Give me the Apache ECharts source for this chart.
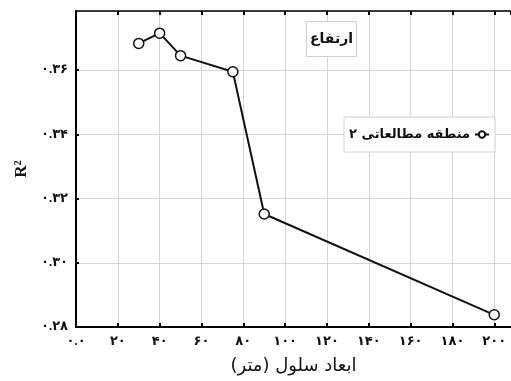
<!DOCTYPE html>
<html>
<head>
<meta charset="utf-8">
<script src="https://cdn.jsdelivr.net/npm/echarts@6/dist/echarts.min.js"></script>
<style>html,body{margin:0;padding:0;background:#fff}#c{width:511px;height:381px}</style>
</head>
<body>
<div id="c"></div>
<script>
var cellSize = [30, 40, 50, 75, 90, 200];
var r2Values = [0.3683, 0.3715, 0.3645, 0.3595, 0.3152, 0.2838];
var xTickLabels = ['۰.۰', '۲۰', '۴۰', '۶۰', '۸۰', '۱۰۰', '۱۲۰', '۱۴۰', '۱۶۰', '۱۸۰', '۲۰۰'];
var yTickLabels = ['۰.۲۸', '۰.۳۰', '۰.۳۲', '۰.۳۴', '۰.۳۶'];
var seriesName = 'منطقه مطالعاتی ۲';
var boxTitle = 'ارتفاع';
var xName = 'ابعاد سلول (متر)';
var yName = 'R²';

var fam = 'Liberation Serif, DejaVu Sans, serif';
var chart = echarts.init(document.getElementById('c'));
chart.setOption({
  animation: false,
  backgroundColor: '#fff',
  title: {
    text: boxTitle, left: 306, top: 21,
    padding: [11, 4, 11, 4],
    borderColor: '#cfcfcf', borderWidth: 1, backgroundColor: '#fff',
    textStyle: { fontFamily: 'DejaVu Sans', fontSize: 14, fontWeight: 'bold', color: '#111' }
  },
  legend: {
    right: 16, top: 117,
    align: 'right',
    padding: [11, 5, 11, 5],
    borderColor: '#cfcfcf', borderWidth: 1, backgroundColor: '#fff',
    itemWidth: 14, itemHeight: 8, itemGap: 4,
    textStyle: { fontFamily: 'DejaVu Sans', fontSize: 13, fontWeight: 'bold', color: '#111' },
    data: [seriesName]
  },
  grid: { left: 76, right: 0, top: 11, bottom: 54, containLabel: false },
  xAxis: [{
    type: 'value', min: 0, max: 208, interval: 20,
    name: xName, nameLocation: 'middle', nameGap: 30,
    nameTextStyle: { fontFamily: 'DejaVu Sans', fontSize: 18, color: '#111' },
    axisLine: { lineStyle: { color: '#000', width: 2 } },
    axisTick: { inside: true, length: 4, lineStyle: { color: '#000', width: 2 } },
    axisLabel: {
      showMaxLabel: false, margin: 8,
      fontFamily: fam, fontSize: 13, fontWeight: 'bold', color: '#111',
      formatter: function (v) { var i = Math.round(v / 20); return Math.abs(v - i * 20) < 1e-6 && xTickLabels[i] ? xTickLabels[i] : ''; }
    },
    splitLine: { show: true, lineStyle: { color: '#d4d4d4', width: 1 } }
  }, {
    type: 'value', min: 0, max: 208, interval: 20, position: 'top',
    axisLine: { show: true, lineStyle: { color: '#000', width: 1.5 } },
    axisTick: { show: true, inside: true, length: 4, lineStyle: { color: '#000', width: 2 } },
    axisLabel: { show: false },
    splitLine: { show: false }
  }],
  yAxis: {
    type: 'value', min: 0.28, max: 0.3784, interval: 0.02,
    name: yName, nameLocation: 'middle', nameGap: 46, nameRotate: 90,
    nameTextStyle: { fontFamily: 'Liberation Serif', fontSize: 17, fontWeight: 'bold', color: '#111' },
    axisLine: { show: true, lineStyle: { color: '#000', width: 2 } },
    axisTick: { show: true, inside: true, length: 3, lineStyle: { color: '#000', width: 2 } },
    axisLabel: {
      showMaxLabel: false, margin: 8,
      fontFamily: fam, fontSize: 13, fontWeight: 'bold', color: '#111',
      formatter: function (v) { var i = Math.round((v - 0.28) / 0.02); return Math.abs(v - (0.28 + i * 0.02)) < 1e-6 && yTickLabels[i] ? yTickLabels[i] : ''; }
    },
    splitLine: { show: true, lineStyle: { color: '#d4d4d4', width: 1 } }
  },
  series: [{
    name: seriesName, type: 'line',
    data: cellSize.map(function (x, i) { return [x, r2Values[i]]; }),
    symbol: 'circle', symbolSize: 10,
    lineStyle: { color: '#111', width: 2 },
    itemStyle: { color: '#fff', borderColor: '#111', borderWidth: 1.5 }
  }]
});
</script>
</body>
</html>
